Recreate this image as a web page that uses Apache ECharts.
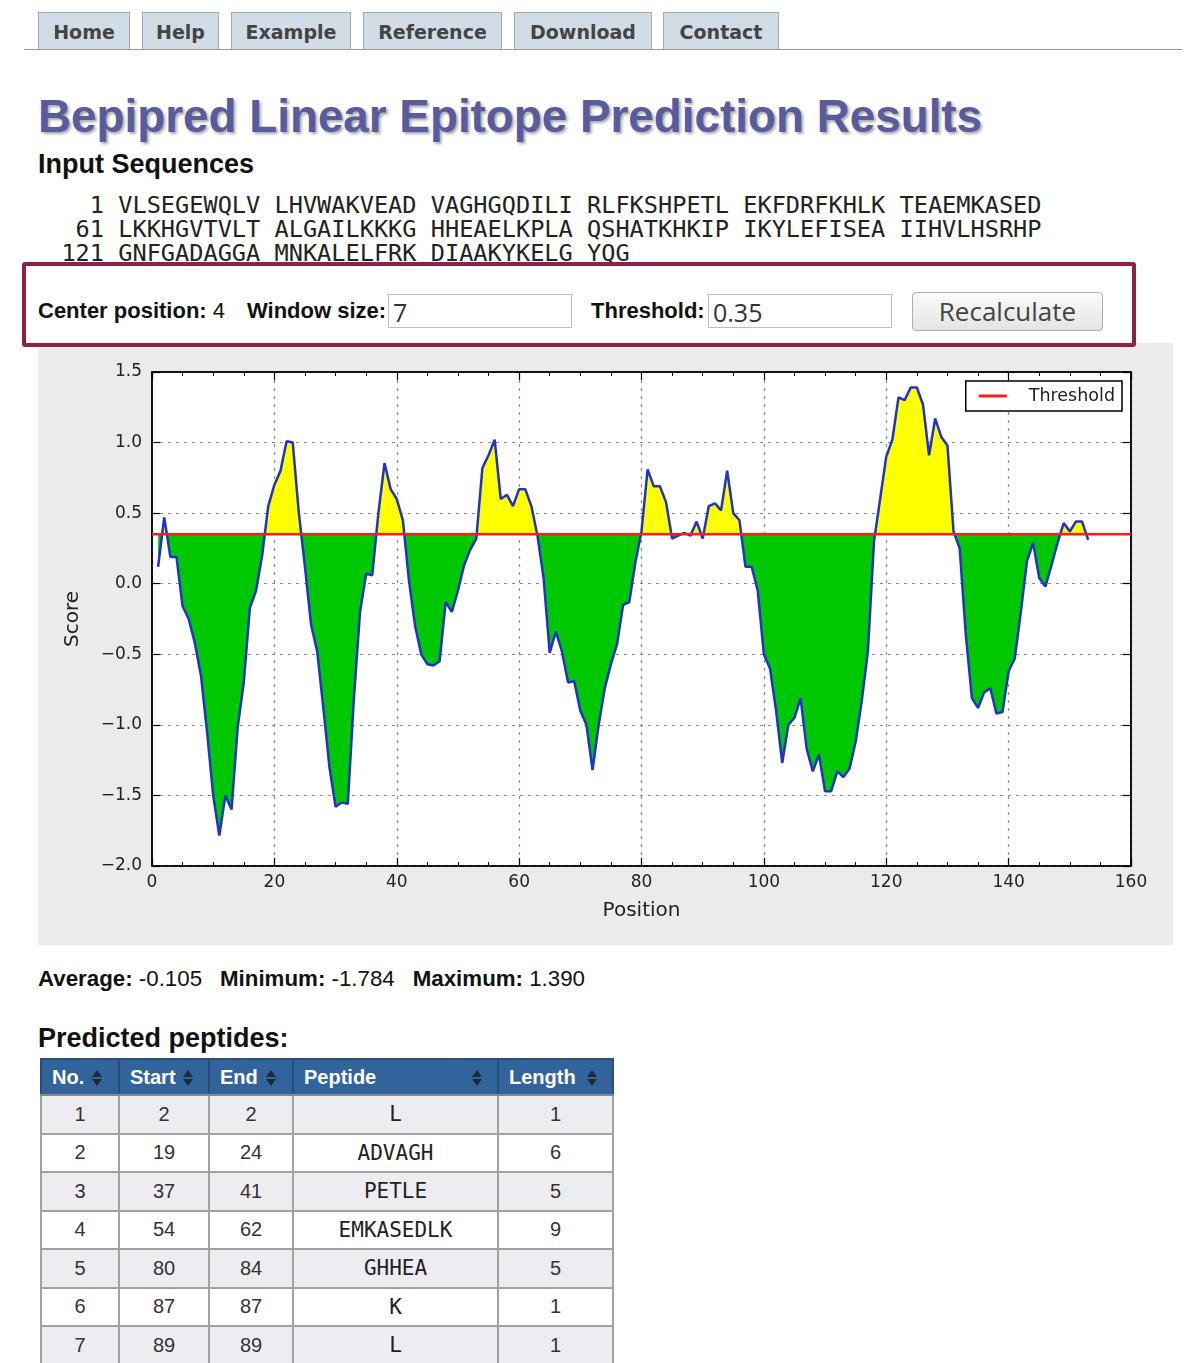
<!DOCTYPE html>
<html>
<head>
<meta charset="utf-8">
<title>Bepipred Linear Epitope Prediction Results</title>
<script src="https://cdn.jsdelivr.net/npm/echarts@6/dist/echarts.min.js"></script>
<style>
  body { margin: 0; background: #fff; width: 1192px; height: 1363px; overflow: hidden; position: relative;
         font-family: "Liberation Sans", Arial, sans-serif; color: #222; }
  .abs { position: absolute; white-space: nowrap; line-height: 1; }
  #navLine { position: absolute; left: 24px; top: 49px; width: 1158px; border-top: 1px solid #9a9a9a; }
  .tab { position: absolute; top: 12px; height: 37px; box-sizing: border-box; background: #d2dce6;
         border: 1px solid #a3abb3; border-bottom: none; font: bold 19px "DejaVu Sans", sans-serif;
         color: #444; text-align: center; line-height: 39px; }
  #title { left: 38px; top: 94px; font-weight: bold; font-size: 45.8px; color: #5a5a9f;
           text-shadow: 2px 2px 3px rgba(0,0,0,0.35); }
  .h2 { font-weight: bold; font-size: 27px; color: #111; }
  #seq { position: absolute; left: 33px; top: 193px; margin: 0; font: 23.6px/24px "DejaVu Sans Mono", monospace; color: #222; }
  #form { position: absolute; left: 22px; top: 262px; width: 1114px; height: 85px; box-sizing: border-box;
          border: 4px solid #912049; border-radius: 3px; background: #fff; z-index: 5; }
  .lbl { font-size: 22px; color: #111; }
  .lbl b { font-weight: bold; }
  .inp { position: absolute; top: 294px; height: 34px; width: 184px; box-sizing: border-box; border: 1px solid #bdbdbd;
         background: #fff; font: 25px "Open Sans", sans-serif; color: #333; line-height: 34px; padding-left: 4px; z-index: 6; }
  #btn { position: absolute; left: 912px; top: 292px; width: 191px; height: 39px; box-sizing: border-box;
         border: 1px solid #adadad; border-radius: 4px; background: linear-gradient(#fbfbfb, #e4e4e4);
         font: 26px "Open Sans", sans-serif; color: #444; text-align: center; line-height: 37px; z-index: 6; }
  #chart { position: absolute; left: 38px; top: 343px; width: 1135px; height: 602px; background: #ebebeb; }
  #stats { left: 38px; top: 968px; font-size: 22.3px; color: #111; }
  #stats span { margin-right: 18px; }
  #peps { left: 38px; top: 1025px; }
  #tbl { position: absolute; left: 40px; top: 1058px; border-collapse: collapse; font-size: 20px; color: #333; }
  #tbl th { background: #30649b; color: #fff; font-weight: bold; text-align: left; height: 36px; padding: 0 0 0 10px;
            border: 2px solid #2a4f78; border-bottom: 2px solid #888; position: relative; box-sizing: border-box; }
  #tbl td { height: 38.5px; border: 2px solid #a2a2a2; text-align: center; padding: 0; box-sizing: border-box; }
  #tbl tr.odd td { background: #ededf1; }
  #tbl td.pep { font-family: "DejaVu Sans Mono", monospace; font-size: 21px; color: #222; }
  .sort { position: absolute; top: 10px; width: 10px; height: 16px; }
  .sort:before, .sort:after { content: ""; position: absolute; left: 0; border-left: 5px solid transparent; border-right: 5px solid transparent; }
  .sort:before { top: 0; border-bottom: 7px solid #1c2a3a; }
  .sort:after { top: 9px; border-top: 7px solid #1c2a3a; }
</style>
</head>
<body>
<div id="navLine"></div>
<div class="tab" style="left:38px;width:92px">Home</div>
<div class="tab" style="left:142px;width:77px">Help</div>
<div class="tab" style="left:231px;width:120px">Example</div>
<div class="tab" style="left:363px;width:139px">Reference</div>
<div class="tab" style="left:514px;width:138px">Download</div>
<div class="tab" style="left:663px;width:116px">Contact</div>

<div id="title" class="abs">Bepipred Linear Epitope Prediction Results</div>
<div class="abs h2" style="left:38px;top:151px">Input Sequences</div>
<pre id="seq"></pre>

<div id="form"></div>
<div class="abs lbl" style="left:38px;top:300px;z-index:6"><b>Center position:</b> 4</div>
<div class="abs lbl" style="left:247px;top:300px;z-index:6"><b>Window size:</b></div>
<div class="inp" style="left:388px">7</div>
<div class="abs lbl" style="left:591px;top:300px;z-index:6"><b>Threshold:</b></div>
<div class="inp" style="left:708px">0.35</div>
<div id="btn">Recalculate</div>

<div id="chart"></div>

<div id="stats" class="abs"></div>
<div id="peps" class="abs h2">Predicted peptides:</div>
<table id="tbl"></table>

<script>
// input sequence, 60 residues per line
var seqStarts = [1, 61, 121];
var seqLines = [
  'VLSEGEWQLV LHVWAKVEAD VAGHGQDILI RLFKSHPETL EKFDRFKHLK TEAEMKASED',
  'LKKHGVTVLT ALGAILKKKG HHEAELKPLA QSHATKHKIP IKYLEFISEA IIHVLHSRHP',
  'GNFGADAGGA MNKALELFRK DIAAKYKELG YQG'
];

// bepipred score per residue (positions 1..153)
var scores = [
  0.12, 0.47, 0.19, 0.19, -0.16, -0.25, -0.42, -0.65, -1.05, -1.50,
  -1.784, -1.50, -1.60, -1.02, -0.70, -0.17, -0.05, 0.20, 0.55, 0.70,
  0.80, 1.01, 1.00, 0.50, 0.12, -0.29, -0.48, -0.88, -1.30, -1.58,
  -1.55, -1.56, -0.81, -0.20, 0.07, 0.06, 0.50, 0.855, 0.67, 0.60,
  0.45, 0.02, -0.30, -0.50, -0.57, -0.58, -0.55, -0.13, -0.20, -0.05,
  0.13, 0.24, 0.32, 0.82, 0.91, 1.02, 0.60, 0.63, 0.55, 0.67,
  0.67, 0.55, 0.34, 0.04, -0.49, -0.34, -0.48, -0.70, -0.69, -0.90,
  -1.00, -1.32, -1.00, -0.74, -0.57, -0.43, -0.15, -0.13, 0.15, 0.37,
  0.81, 0.69, 0.69, 0.58, 0.32, 0.34, 0.36, 0.34, 0.44, 0.32,
  0.55, 0.57, 0.52, 0.80, 0.50, 0.45, 0.12, 0.12, -0.05, -0.50,
  -0.60, -0.90, -1.27, -1.00, -0.95, -0.81, -1.17, -1.33, -1.21, -1.47,
  -1.47, -1.33, -1.37, -1.31, -1.12, -0.83, -0.48, 0.30, 0.60, 0.90,
  1.02, 1.32, 1.30, 1.39, 1.39, 1.27, 0.91, 1.17, 1.04, 0.98,
  0.37, 0.25, -0.36, -0.81, -0.88, -0.77, -0.74, -0.92, -0.91, -0.62,
  -0.53, -0.20, 0.16, 0.29, 0.04, -0.02, 0.13, 0.29, 0.43, 0.37,
  0.44, 0.44, 0.31
];
var threshold = 0.35;
var xTicks = [0, 160, 20];      // min, max, step
var yTicks = [-2.0, 1.5, 0.5];

var statNames = ['Average:', 'Minimum:', 'Maximum:'];
var statValues = ['-0.105', '-1.784', '1.390'];

// predicted peptides table
var tableHeads = ['No.', 'Start', 'End', 'Peptide', 'Length'];
var pepNo = [1, 2, 3, 4, 5, 6, 7];
var pepStart = [2, 19, 37, 54, 80, 87, 89];
var pepEnd = [2, 24, 41, 62, 84, 87, 89];
var pepSeq = ['L', 'ADVAGH', 'PETLE', 'EMKASEDLK', 'GHHEA', 'K', 'L'];
var pepLen = [1, 6, 5, 9, 5, 1, 1];

// ---- page text ----
var seqText = seqLines.map(function (l, i) {
  var n = String(seqStarts[i]);
  while (n.length < 5) n = ' ' + n;
  return n + ' ' + l;
}).join('\n');
document.getElementById('seq').textContent = seqText;

document.getElementById('stats').innerHTML = statNames.map(function (s, i) {
  return '<span><b>' + s + '</b> ' + statValues[i] + '</span>';
}).join('');

var colW = [78, 90, 84, 205, 115];
var iconX = [50, 63, 56, 178, 88];
var html = '<tr>' + tableHeads.map(function (h, i) {
  return '<th style="width:' + colW[i] + 'px">' + h + '<span class="sort" style="left:' + iconX[i] + 'px"></span></th>';
}).join('') + '</tr>';
pepNo.forEach(function (n, i) {
  html += '<tr class="' + (i % 2 === 0 ? 'odd' : 'even') + '">' +
    '<td>' + n + '</td><td>' + pepStart[i] + '</td><td>' + pepEnd[i] + '</td>' +
    '<td class="pep">' + pepSeq[i] + '</td><td>' + pepLen[i] + '</td></tr>';
});
document.getElementById('tbl').innerHTML = html;

// ---- chart ----
var scoreData = scores.map(function (v, i) { return [i + 1, v]; });
var minus = function (v) { return v.toFixed(1).replace('-', '\u2212'); };
var axisFont = { fontFamily: 'DejaVu Sans', fontSize: 17, color: '#222' };
var gridLine = { show: true, lineStyle: { type: [3, 5], color: '#8a8a8a', width: 1.2 } };
var edge = { show: true, onZero: false, lineStyle: { color: '#000', width: 1.5 } };
var ticks = { inside: true, length: 8, lineStyle: { color: '#000', width: 1.2 } };
var minor = { show: true, splitNumber: 4, length: 4, lineStyle: { color: '#000', width: 1 } };

var chart = echarts.init(document.getElementById('chart'));
chart.setOption({
  animation: false,
  backgroundColor: '#ebebeb',
  grid: { left: 114, right: 42, top: 29, bottom: 79, show: true, backgroundColor: '#fff',
          borderColor: '#000', borderWidth: 1.5 },
  legend: {
    data: ['Threshold'], right: 51, top: 38, orient: 'vertical',
    icon: 'rect', itemWidth: 28, itemHeight: 3,
    padding: [6, 7, 6, 13],
    backgroundColor: '#fff', borderColor: '#000', borderWidth: 1.5, borderRadius: 0,
    textStyle: { fontFamily: 'DejaVu Sans', fontSize: 17.5, color: '#222', padding: [0, 0, 0, 17] }
  },
  // finite pieces so the gradient gets real stops at the threshold
  visualMap: {
    type: 'piecewise', show: false, seriesIndex: 0, dimension: 1,
    pieces: [
      { min: yTicks[0] - 10, max: threshold, color: '#00c800' },
      { min: threshold, max: yTicks[1] + 10, color: '#ffff00' }
    ]
  },
  xAxis: [{
    type: 'value', min: xTicks[0], max: xTicks[1], interval: xTicks[2],
    name: 'Position', nameLocation: 'middle', nameGap: 35,
    nameTextStyle: { fontFamily: 'DejaVu Sans', fontSize: 20, color: '#222' },
    axisLine: edge, axisTick: ticks, minorTick: minor,
    axisLabel: Object.assign({ margin: 8 }, axisFont),
    splitLine: gridLine
  }, {
    type: 'value', position: 'top', min: xTicks[0], max: xTicks[1], interval: xTicks[2],
    axisLine: edge, axisTick: ticks, minorTick: minor,
    axisLabel: { show: false }, splitLine: { show: false }
  }],
  yAxis: [{
    type: 'value', min: yTicks[0], max: yTicks[1], interval: yTicks[2],
    name: 'Score', nameLocation: 'middle', nameGap: 69, nameRotate: 90,
    nameTextStyle: { fontFamily: 'DejaVu Sans', fontSize: 20, color: '#222' },
    axisLine: edge, axisTick: ticks,
    axisLabel: Object.assign({ margin: 10, formatter: minus }, axisFont),
    splitLine: gridLine
  }, {
    type: 'value', position: 'right', min: yTicks[0], max: yTicks[1], interval: yTicks[2],
    axisLine: edge, axisTick: ticks,
    axisLabel: { show: false }, splitLine: { show: false }
  }],
  series: [{
    name: 'fill', type: 'line', data: scoreData, symbol: 'none', silent: true, z: 2,
    lineStyle: { width: 0 },
    areaStyle: { origin: threshold, opacity: 1 }
  }, {
    name: 'Score', type: 'line', data: scoreData, symbol: 'none', silent: true, z: 3,
    color: '#1f33c8',
    lineStyle: { width: 2.5, color: '#1f33c8' }
  }, {
    name: 'Threshold', type: 'line', data: [[xTicks[0], threshold], [xTicks[1], threshold]],
    symbol: 'none', silent: true, z: 4, color: '#ff1a1a',
    lineStyle: { width: 2.5, color: '#ff1a1a' }
  }]
});
window.onresize = chart.resize;
</script>
</body>
</html>
